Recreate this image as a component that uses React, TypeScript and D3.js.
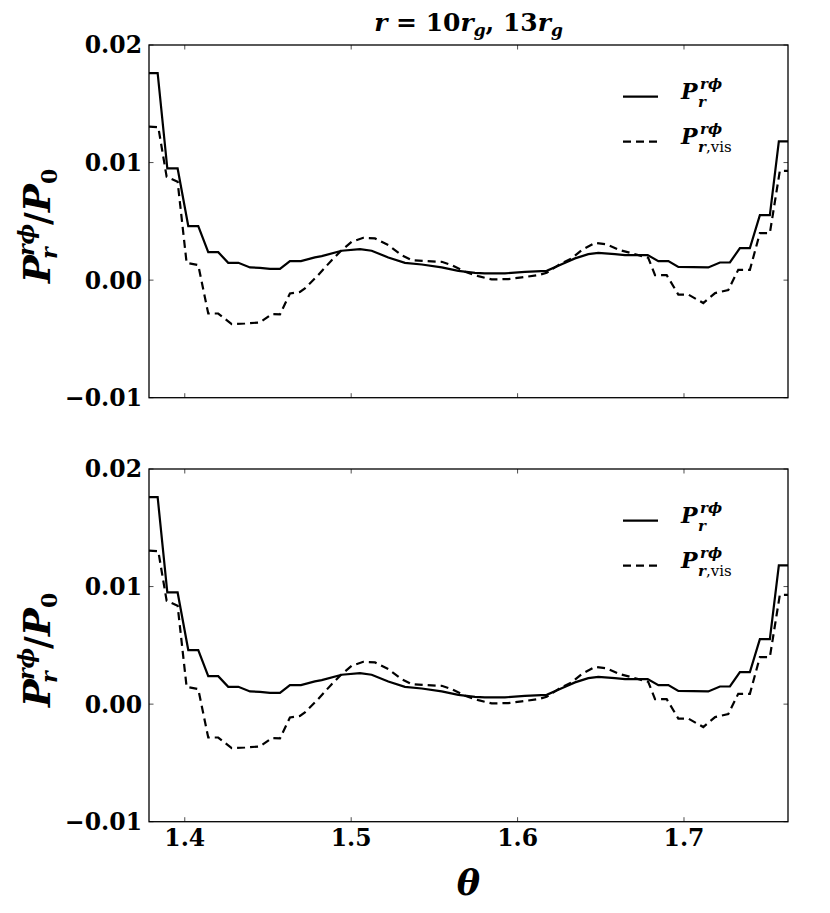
import React from 'react';
import * as d3 from 'd3';

// theta values and P_r^{rφ}/P_0 values
const thetaSolid = [1.3785, 1.3837, 1.3895, 1.3957, 1.4021, 1.4081, 1.4141, 1.4201, 1.4261, 1.4322, 1.4392, 1.4452, 1.4512, 1.4572, 1.4632, 1.4698, 1.4782, 1.4823, 1.4943, 1.5053, 1.5123, 1.5223, 1.5323, 1.5424, 1.5544, 1.5644, 1.5744, 1.5803, 1.5924, 1.6044, 1.6175, 1.6265, 1.6345, 1.6425, 1.6485, 1.6585, 1.6645, 1.6782, 1.6846, 1.6906, 1.6966, 1.7146, 1.7216, 1.7276, 1.7336, 1.7396, 1.7456, 1.7516, 1.757, 1.7625];
const valSolid = [0.0176, 0.0176, 0.0095, 0.0095, 0.0046, 0.0046, 0.00238, 0.00238, 0.00147, 0.00147, 0.00108, 0.00105, 0.00096, 0.00096, 0.00162, 0.00162, 0.00193, 0.00204, 0.0025, 0.00264, 0.0025, 0.00193, 0.00147, 0.00133, 0.00108, 0.00079, 0.00062, 0.00058, 0.00057, 0.00071, 0.00079, 0.00136, 0.00185, 0.00221, 0.00232, 0.00221, 0.00213, 0.00213, 0.00162, 0.00162, 0.00113, 0.00108, 0.0015, 0.0015, 0.00273, 0.00273, 0.00553, 0.00553, 0.0118, 0.0118];

const thetaVis = [1.3785, 1.3841, 1.3891, 1.3957, 1.4011, 1.4081, 1.4141, 1.4201, 1.4282, 1.4362, 1.4452, 1.4522, 1.4572, 1.4632, 1.4692, 1.4722, 1.4802, 1.4883, 1.4943, 1.5003, 1.5073, 1.5143, 1.5223, 1.5303, 1.5364, 1.5443, 1.5544, 1.5604, 1.5684, 1.5764, 1.5844, 1.5944, 1.6025, 1.6124, 1.6175, 1.6245, 1.6325, 1.6385, 1.6465, 1.6535, 1.6615, 1.6695, 1.6785, 1.6826, 1.6896, 1.6966, 1.7026, 1.7116, 1.7187, 1.7266, 1.7326, 1.7396, 1.7456, 1.7516, 1.7576, 1.7625];
const valVis = [0.01305, 0.013, 0.00879, 0.00837, 0.00147, 0.00128, -0.00284, -0.00284, -0.00374, -0.00369, -0.0036, -0.00289, -0.00292, -0.00113, -0.001, -0.0007, 0.00043, 0.0017, 0.00255, 0.00326, 0.0036, 0.00355, 0.00298, 0.00213, 0.0017, 0.00162, 0.00156, 0.00128, 0.00071, 0.00034, 0.00006, 0.00009, 0.00023, 0.00043, 0.00062, 0.00128, 0.00185, 0.00255, 0.00317, 0.00304, 0.00255, 0.00225, 0.0019, 0.00043, 0.00043, -0.00123, -0.00123, -0.00195, -0.0011, -0.00085, 0.00088, 0.00088, 0.004, 0.004, 0.0093, 0.0093];

const xTicks = [1.4, 1.5, 1.6, 1.7];
const xTickLabels = ['1.4', '1.5', '1.6', '1.7'];
const yTicks = [-0.01, 0, 0.01, 0.02];
const yTickLabels = ['\u22120.01', '0.00', '0.01', '0.02'];
const xDomain = [1.3785, 1.7625];
const yDomain = [-0.01, 0.02];

const W = 830;
const H = 913;
const LEFT = 149;
const RIGHT = 788;
const PANEL_H = 352.7;
const panelTops = [45, 469];
const FONT = 'DejaVu Serif, Liberation Serif, serif';

const x = d3.scaleLinear().domain(xDomain).range([LEFT, RIGHT]);

function Legend({ top }: { top: number }) {
  const y1 = top + 51.7;
  const y2 = top + 96.7;
  const common = { fontFamily: FONT, fontWeight: 'bold' as const, fill: '#000' };
  return (
    <g>
      <line x1={623} x2={658} y1={y1} y2={y1} stroke="#000" strokeWidth={2.2} />
      <line x1={623} x2={658} y1={y2} y2={y2} stroke="#000" strokeWidth={2.2} strokeDasharray="8,5" />
      <text x={681} y={y1 + 2} fontSize={22} fontStyle="italic" {...common}>P</text>
      <text x={700} y={y1 - 8} fontSize={15} fontStyle="italic" {...common}>r{'\u03d5'}</text>
      <text x={698} y={y1 + 10} fontSize={15} fontStyle="italic" {...common}>r</text>
      <text x={681} y={y2 + 2} fontSize={22} fontStyle="italic" {...common}>P</text>
      <text x={700} y={y2 - 8} fontSize={15} fontStyle="italic" {...common}>r{'\u03d5'}</text>
      <text x={698} y={y2 + 10} fontSize={15} {...common}>
        <tspan fontStyle="italic">r</tspan>
        <tspan fontWeight="normal">,vis</tspan>
      </text>
    </g>
  );
}

function YLabel({ cy }: { cy: number }) {
  const common = { fontFamily: FONT, fontWeight: 'bold' as const, fontStyle: 'italic' as const, fill: '#000' };
  return (
    <g transform={`translate(50, ${cy}) rotate(-90)`}>
      <text x={-61} y={0} fontSize={37} {...common}>P</text>
      <text x={-34} y={-16} fontSize={22} {...common}>r{'\u03d5'}</text>
      <text x={-37} y={7} fontSize={22} {...common}>r</text>
      <text x={-3} y={0} fontSize={35} {...common} fontStyle="normal">/</text>
      <text x={10} y={0} fontSize={37} {...common}>P</text>
      <text x={38} y={7} fontSize={22} {...common} fontStyle="normal">0</text>
    </g>
  );
}

function Panel({ top, showX }: { top: number; showX: boolean }) {
  const bottom = top + PANEL_H;
  const y = d3.scaleLinear().domain(yDomain).range([bottom, top]);
  const lineGen = d3
    .line<[number, number]>()
    .x((d) => x(d[0]))
    .y((d) => y(d[1]));
  const solidPath = lineGen(thetaSolid.map((t, i) => [t, valSolid[i]] as [number, number]));
  const visPath = lineGen(thetaVis.map((t, i) => [t, valVis[i]] as [number, number]));
  const tickLen = 4.5;
  return (
    <g>
      <defs>
        <clipPath id={`clip${top}`}>
          <rect x={LEFT} y={top} width={RIGHT - LEFT} height={PANEL_H} />
        </clipPath>
      </defs>
      <g clipPath={`url(#clip${top})`}>
        <path d={solidPath || ''} fill="none" stroke="#000" strokeWidth={2.2} />
        <path d={visPath || ''} fill="none" stroke="#000" strokeWidth={2.2} strokeDasharray="8,5" />
      </g>
      {xTicks.map((t) => (
        <g key={`xt${t}`}>
          <line x1={x(t)} x2={x(t)} y1={bottom} y2={bottom - tickLen} stroke="#000" strokeWidth={0.7} />
          <line x1={x(t)} x2={x(t)} y1={top} y2={top + tickLen} stroke="#000" strokeWidth={0.7} />
        </g>
      ))}
      {yTicks.map((t) => (
        <g key={`yt${t}`}>
          <line x1={LEFT} x2={LEFT + tickLen} y1={y(t)} y2={y(t)} stroke="#000" strokeWidth={0.7} />
          <line x1={RIGHT} x2={RIGHT - tickLen} y1={y(t)} y2={y(t)} stroke="#000" strokeWidth={0.7} />
        </g>
      ))}
      <rect x={LEFT} y={top} width={RIGHT - LEFT} height={PANEL_H} fill="none" stroke="#000" strokeWidth={1.3} />
      {yTicks.map((t, i) => (
        <text
          key={`yl${t}`}
          x={142}
          y={y(t)}
          dy="0.36em"
          textAnchor="end"
          fontFamily={FONT}
          fontWeight="bold"
          fontSize={23.5}
          fill="#000"
        >
          {yTickLabels[i]}
        </text>
      ))}
      {showX &&
        xTicks.map((t, i) => (
          <text
            key={`xl${t}`}
            x={x(t)}
            y={bottom + 24}
            textAnchor="middle"
            fontFamily={FONT}
            fontWeight="bold"
            fontSize={23.5}
            fill="#000"
          >
            {xTickLabels[i]}
          </text>
        ))}
      <Legend top={top} />
      <YLabel cy={top + 177} />
    </g>
  );
}

export default function App() {
  const mid = (LEFT + RIGHT) / 2;
  return (
    <svg
      width={W}
      height={H}
      viewBox={`0 0 ${W} ${H}`}
      style={{ position: 'absolute', left: 0, top: 0, background: '#fff' }}
    >
      <rect x={0} y={0} width={W} height={H} fill="#fff" />
      <text x={mid} y={31} textAnchor="middle" fontFamily={FONT} fontWeight="bold" fontSize={25} fill="#000">
        <tspan fontStyle="italic">r</tspan>
        <tspan> = 10</tspan>
        <tspan fontStyle="italic">r</tspan>
        <tspan fontStyle="italic" fontSize={17} dy={5}>g</tspan>
        <tspan dy={-5}>,  13</tspan>
        <tspan fontStyle="italic">r</tspan>
        <tspan fontStyle="italic" fontSize={17} dy={5}>g</tspan>
      </text>
      {panelTops.map((t, i) => (
        <Panel key={t} top={t} showX={i === panelTops.length - 1} />
      ))}
      <text x={mid} y={895} textAnchor="middle" fontFamily={FONT} fontWeight="bold" fontStyle="italic" fontSize={35} fill="#000">
        {'\u03b8'}
      </text>
    </svg>
  );
}
